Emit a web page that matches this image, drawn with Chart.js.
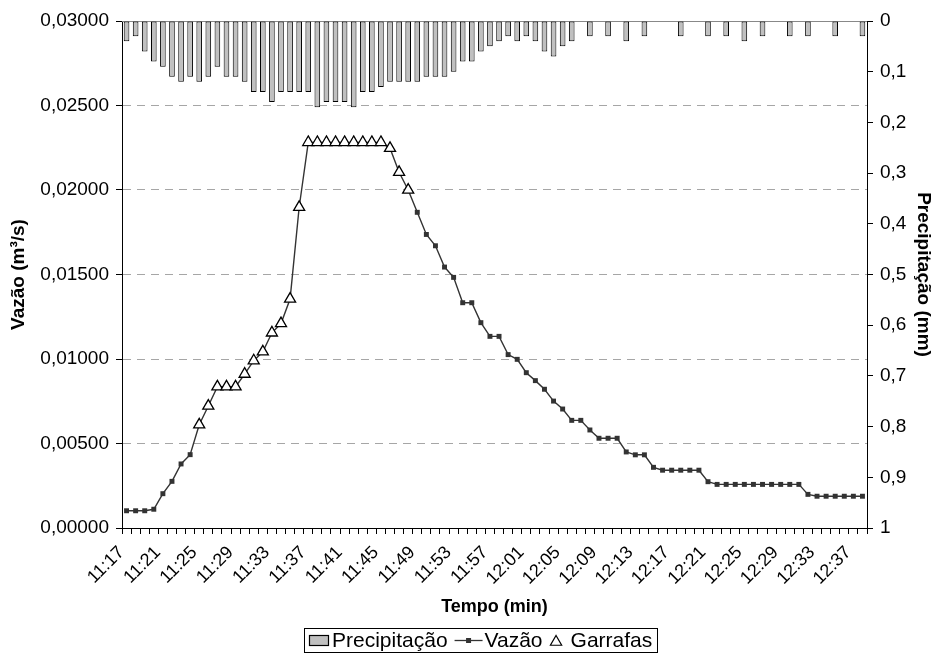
<!DOCTYPE html>
<html><head><meta charset="utf-8">
<script src="https://cdn.jsdelivr.net/npm/chart.js@4/dist/chart.umd.min.js"></script>
<style>html,body{margin:0;padding:0;background:#fff;} #wrap{width:935px;height:664px;position:relative;}</style>
</head><body><div id="wrap"><canvas id="c" width="935" height="664"></canvas></div>
<script>
const categories = [
 '11:17','11:18','11:19','11:20','11:21','11:22','11:23','11:24','11:25','11:26','11:27','11:28','11:29','11:30',
 '11:31','11:32','11:33','11:34','11:35','11:36','11:37','11:38','11:39','11:40','11:41','11:42','11:43','11:44',
 '11:45','11:46','11:47','11:48','11:49','11:50','11:51','11:52','11:53','11:54','11:55','11:56','11:57','11:58','11:59',
 '12:00','12:01','12:02','12:03','12:04','12:05','12:06','12:07','12:08','12:09','12:10','12:11','12:12','12:13',
 '12:14','12:15','12:16','12:17','12:18','12:19','12:20','12:21','12:22','12:23','12:24','12:25','12:26','12:27',
 '12:28','12:29','12:30','12:31','12:32','12:33','12:34','12:35','12:36','12:37','12:38'
];
const tickLabelStep = 4;

const precipitacao = [
 0.04,0.03,0.06,0.08,0.09,0.11,0.12,0.11,0.12,0.11,0.09,0.11,0.11,0.12,0.14,0.14,0.16,0.14,0.14,0.14,
 0.14,0.17,0.16,0.16,0.16,0.17,0.14,0.14,0.13,0.12,0.12,0.12,0.12,0.11,0.11,0.11,0.10,0.08,0.08,0.06,
 0.05,0.04,0.03,0.04,0.03,0.04,0.06,0.07,0.05,0.04,null,0.03,null,0.03,null,0.04,null,0.03,null,null,
 null,0.03,null,null,0.03,null,0.03,null,0.04,null,0.03,null,null,0.03,null,0.03,null,null,0.03,null,
 null,0.03
];

const vazao = [
 0.00102,0.00102,0.00102,0.00111,0.00203,0.00276,0.00379,0.00434,0.00611,0.00722,
 0.00836,0.00836,0.00836,0.00911,0.00990,0.01043,0.01155,0.01210,0.01355,0.01898,
 0.02282,0.02282,0.02282,0.02282,0.02282,0.02282,0.02282,0.02282,0.02282,0.02247,
 0.02105,0.02000,0.01868,0.01737,0.01670,0.01544,0.01483,0.01333,0.01333,0.01215,
 0.01134,0.01134,0.01026,0.00998,0.00919,0.00872,0.00821,0.00751,0.00704,0.00637,
 0.00637,0.00580,0.00531,0.00531,0.00531,0.00450,0.00433,0.00433,0.00359,0.00342,
 0.00342,0.00342,0.00342,0.00342,0.00274,0.00258,0.00258,0.00258,0.00258,0.00258,
 0.00258,0.00258,0.00258,0.00258,0.00258,0.00199,0.00188,0.00188,0.00188,0.00188,
 0.00188,0.00188
];

const garrafas = [
 null,null,null,null,null,null,null,null,0.00611,0.00722,
 0.00836,0.00836,0.00836,0.00911,0.00990,0.01043,0.01155,0.01210,0.01355,0.01898,
 0.02282,0.02282,0.02282,0.02282,0.02282,0.02282,0.02282,0.02282,0.02282,0.02247,
 0.02105,0.02000,null,null,null,null,null,null,null,null,
 null,null,null,null,null,null,null,null,null,null,
 null,null,null,null,null,null,null,null,null,null,
 null,null,null,null,null,null,null,null,null,null,
 null,null,null,null,null,null,null,null,null,null,
 null,null
];

const seriesNames = ['Precipitação', 'Vazão', 'Garrafas'];
const axisTitles = { x: 'Tempo (min)', y: 'Vazão (m³/s)', y2: 'Precipitação (mm)' };

const FONT = '"Liberation Sans", Arial, sans-serif';

const topLinePlugin = {
  id: 'topLine',
  beforeDatasetsDraw(chart) {
    const {ctx, chartArea: a} = chart;
    ctx.save();
    ctx.strokeStyle = '#888';
    ctx.lineWidth = 1;
    ctx.beginPath();
    ctx.moveTo(a.left, Math.round(a.top) + 0.5);
    ctx.lineTo(a.right, Math.round(a.top) + 0.5);
    ctx.stroke();
    ctx.restore();
  }
};

const legendPlugin = {
  id: 'boxLegend',
  afterDraw(chart) {
    const ctx = chart.ctx;
    ctx.save();
    ctx.font = '21px ' + FONT;
    const kinds = ['bar', 'line', 'tri'];
    const symW = {bar: 20, line: 28, tri: 13};
    const items = chart.data.datasets.map((d, i) => ({label: d.label, kind: kinds[i]}));
    const gapSym = [3, 2, 8], gapItem = 7, padL = 5, padR = 5;
    let total = padL + padR;
    items.forEach((it, i) => {
      it.tw = ctx.measureText(it.label).width;
      total += symW[it.kind] + gapSym[i] + it.tw + (i < items.length - 1 ? gapItem : 0);
    });
    const cx = 481;
    let x = Math.round(cx - total / 2);
    const yTop = 628, h = 24, yc = yTop + h / 2;
    ctx.strokeStyle = '#000';
    ctx.lineWidth = 1;
    ctx.strokeRect(x + 0.5, yTop + 0.5, Math.round(total), h);
    x += padL;
    items.forEach((it, i) => {
      if (it.kind === 'bar') {
        ctx.fillStyle = '#c0c0c0';
        ctx.fillRect(x, yc - 5, symW.bar, 10);
        ctx.strokeStyle = '#000';
        ctx.lineWidth = 1.2;
        ctx.strokeRect(x + 0.5, yc - 5 + 0.5, symW.bar - 1, 10);
      } else if (it.kind === 'line') {
        ctx.strokeStyle = '#333';
        ctx.lineWidth = 1.3;
        ctx.beginPath();
        ctx.moveTo(x, yc + 0.5);
        ctx.lineTo(x + symW.line, yc + 0.5);
        ctx.stroke();
        ctx.fillStyle = '#333';
        ctx.fillRect(x + symW.line / 2 - 2.5, yc - 2, 5, 5);
      } else {
        ctx.strokeStyle = '#000';
        ctx.lineWidth = 1.2;
        ctx.fillStyle = '#fff';
        const r = 6.5, px = x + symW.tri / 2, py = yc + 2;
        ctx.beginPath();
        ctx.moveTo(px, py - r);
        ctx.lineTo(px + r * 0.866, py + r / 2);
        ctx.lineTo(px - r * 0.866, py + r / 2);
        ctx.closePath();
        ctx.fill();
        ctx.stroke();
      }
      x += symW[it.kind] + gapSym[i];
      ctx.fillStyle = '#000';
      ctx.textBaseline = 'middle';
      ctx.textAlign = 'left';
      ctx.fillText(it.label, x, yc + 1);
      x += it.tw + gapItem;
    });
    ctx.restore();
  }
};

new Chart(document.getElementById('c'), {
  data: {
    labels: categories,
    datasets: [
      {
        type: 'bar', label: seriesNames[0], data: precipitacao, yAxisID: 'y2', order: 3,
        backgroundColor: '#c0c0c0', borderColor: '#000', borderWidth: 1, borderSkipped: false,
        barPercentage: 0.62, categoryPercentage: 1
      },
      {
        type: 'line', label: seriesNames[1], data: vazao, yAxisID: 'y', order: 2,
        borderColor: '#333', borderWidth: 1.4, tension: 0, fill: false,
        pointStyle: 'rect', pointRadius: 3.5, pointBackgroundColor: '#333', pointBorderColor: '#333', pointBorderWidth: 0
      },
      {
        type: 'line', label: seriesNames[2], data: garrafas, yAxisID: 'y', order: 1,
        showLine: false, pointStyle: 'triangle', pointRadius: 6.4,
        pointBackgroundColor: '#fff', pointBorderColor: '#000', pointBorderWidth: 1.3
      }
    ]
  },
  options: {
    responsive: false,
    animation: false,
    devicePixelRatio: 1,
    layout: { padding: { top: 21, left: 0, right: 0, bottom: 0 } },
    plugins: { legend: { display: false }, tooltip: { enabled: false } },
    scales: {
      x: {
        type: 'category', offset: true,
        grid: { offset: true, drawOnChartArea: false, drawTicks: true, tickLength: 6, tickColor: '#000' },
        border: { display: true, color: '#000', width: 1 },
        ticks: {
          autoSkip: false, maxRotation: 45, minRotation: 45, padding: 8, labelOffset: -5,
          color: '#000', font: { family: FONT, size: 18 },
          callback: function(v, i) { return i % tickLabelStep === 0 ? this.getLabelForValue(v) : ''; }
        },
        title: { display: true, text: axisTitles.x, color: '#000', font: { family: FONT, size: 18, weight: 'bold' }, padding: { top: 0, bottom: 46 } },
        afterFit: s => { s.height = 136; }
      },
      y: {
        type: 'linear', position: 'left', min: 0, max: 0.03,
        grid: {
          drawOnChartArea: true, drawTicks: true, tickLength: 6, tickColor: '#000', lineWidth: 1,
          color: c => (c.tick && (c.tick.value <= 0 || c.tick.value >= 0.0299)) ? 'rgba(0,0,0,0)' : '#a6a6a6'
        },
        border: { display: true, color: '#000', width: 1, dash: [8, 6] },
        ticks: {
          stepSize: 0.005, padding: 7, color: '#000', font: { family: FONT, size: 19 },
          callback: v => v.toFixed(5).replace('.', ',')
        },
        title: { display: true, text: axisTitles.y, color: '#000', font: { family: FONT, size: 19, weight: 'bold' }, padding: { top: 7, bottom: 0 } },
        afterFit: s => { s.width = 122; }
      },
      y2: {
        type: 'linear', position: 'right', min: 0, max: 1, reverse: true,
        grid: { drawOnChartArea: false, drawTicks: true, tickLength: 6, tickColor: '#000' },
        border: { display: true, color: '#000', width: 1 },
        ticks: {
          stepSize: 0.1, padding: 7, color: '#000', font: { family: FONT, size: 19 },
          callback: v => { const r = Math.round(v * 10) / 10; return (r === 0 || r === 1) ? String(r) : r.toFixed(1).replace('.', ','); }
        },
        title: { display: true, text: axisTitles.y2, color: '#000', font: { family: FONT, size: 19, weight: 'bold' }, padding: { top: 0, bottom: 0 } },
        afterFit: s => { s.width = 68; }
      }
    }
  },
  plugins: [topLinePlugin, legendPlugin]
});
</script>
</body></html>
